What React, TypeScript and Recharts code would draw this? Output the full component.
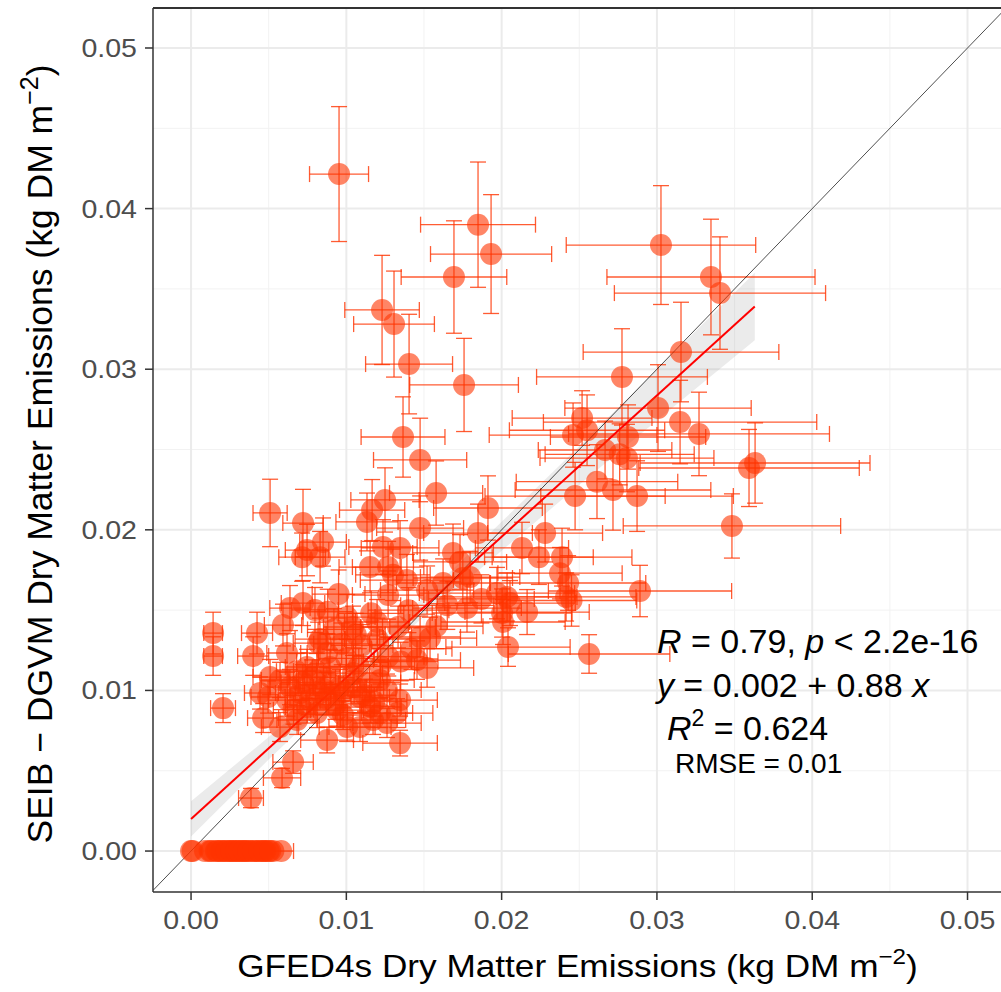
import {
  Area,
  CartesianGrid,
  ComposedChart,
  ErrorBar,
  Line,
  ReferenceDot,
  ReferenceLine,
  Scatter,
  XAxis,
  YAxis,
} from "recharts";

// GFED4s (x) vs SEIB-DGVM (y) dry matter emissions, kg DM m-2, with +/- spread
const gfed = [
  0.0, 0.0001, 0.0009, 0.0012, 0.0016, 0.0019, 0.0022, 0.0025, 0.0027, 0.003, 0.0033, 0.0035, 0.0038, 0.0041, 0.0043,
  0.0046, 0.0048, 0.005, 0.0053, 0.0058,
  0.00953, 0.01848, 0.01932, 0.01693, 0.0123, 0.01307, 0.01404, 0.01758, 0.01365, 0.03026, 0.03348, 0.03406, 0.03155,
  0.02775, 0.03007, 0.03149, 0.03271, 0.03593, 0.03632, 0.02518, 0.0246, 0.0255, 0.02814, 0.02666, 0.02807, 0.0276,
  0.02614, 0.02717, 0.02473, 0.02872, 0.03483, 0.02891, 0.02563,
  0.01475, 0.01578, 0.01912, 0.01475, 0.01848, 0.0228, 0.02131, 0.0224, 0.02389, 0.02376, 0.02428, 0.02415, 0.0245,
  0.01687, 0.01732, 0.01797, 0.01623, 0.0197, 0.02035, 0.02054, 0.02164, 0.02003, 0.02009, 0.02041, 0.01777, 0.01539,
  0.01455, 0.0152, 0.0139, 0.0152,
  0.00509, 0.00721, 0.0085, 0.00747, 0.00715, 0.00831, 0.01133, 0.01166, 0.01249, 0.01236, 0.01346, 0.01153, 0.01269,
  0.01269, 0.00721, 0.00798, 0.00637, 0.00592, 0.00142, 0.00142, 0.00206, 0.00425, 0.004, 0.00509, 0.00496, 0.00464,
  0.00618, 0.01005, 0.01043, 0.01198, 0.00818, 0.00876, 0.01475, 0.01333, 0.01217, 0.01346, 0.01346, 0.00876, 0.00657,
  0.00586, 0.00979, 0.01088, 0.01172, 0.01262, 0.00444, 0.00573, 0.00637, 0.00702, 0.00747, 0.00683, 0.00573, 0.00811,
  0.0094, 0.00831, 0.00959, 0.01088, 0.01043, 0.00895, 0.00747, 0.01153, 0.01217, 0.01327, 0.01005, 0.01262, 0.00386,
  0.0092, 0.011, 0.01, 0.012, 0.014, 0.013, 0.0095, 0.0078, 0.0068, 0.0062, 0.009, 0.0115, 0.0135, 0.0158, 0.0165,
  0.0187, 0.0175,
  0.0013, 0.0017, 0.002, 0.0023, 0.0026, 0.0029, 0.0031, 0.0034, 0.0037, 0.004, 0.0044, 0.0047, 0.0051,
  0.0072, 0.0081, 0.0087, 0.0098, 0.0105, 0.0112, 0.0118, 0.0093, 0.0085, 0.0076, 0.0066, 0.0108, 0.0122, 0.0097,
  0.0083, 0.0127, 0.0142, 0.0106, 0.0116, 0.0088,
];

const seib = [
  0, 0, 0, 0, 0, 0, 0, 0, 0, 0, 0, 0, 0, 0, 0, 0, 0, 0, 0, 0,
  0.04215, 0.039, 0.03717, 0.03574, 0.03369, 0.03281, 0.03032, 0.02902, 0.02578, 0.03773, 0.03574, 0.03474, 0.03107,
  0.02952, 0.02758, 0.02671, 0.02597, 0.02385, 0.02416, 0.02696, 0.0259, 0.0262, 0.02578, 0.02497, 0.02447, 0.0247,
  0.023, 0.02248, 0.0221, 0.0221, 0.02024, 0.01619, 0.01227,
  0.02435, 0.02229, 0.02136, 0.02011, 0.0198, 0.0198, 0.01887, 0.0183, 0.0183, 0.0173, 0.01669, 0.01582, 0.0156,
  0.01856, 0.018, 0.01706, 0.01669, 0.01606, 0.01582, 0.01544, 0.01488, 0.01482, 0.01426, 0.0127, 0.01513, 0.01326,
  0.01189, 0.0114, 0.01687, 0.01625,
  0.02105, 0.02042, 0.01924, 0.01874, 0.0183, 0.0183, 0.02049, 0.02123, 0.02186, 0.01893, 0.01887, 0.01768, 0.01768,
  0.01594, 0.01544, 0.01501, 0.01513, 0.01407, 0.01357, 0.01214, 0.0089, 0.01357, 0.01214, 0.01083, 0.00959, 0.00828,
  0.01233, 0.01457, 0.01395, 0.01426, 0.01295, 0.01233, 0.01333, 0.01395, 0.01065, 0.0094, 0.00672, 0.00691, 0.00554,
  0.00455, 0.00847, 0.00772, 0.00816, 0.00797, 0.00984, 0.01065, 0.01021, 0.00984, 0.00897, 0.00816, 0.00772, 0.00859,
  0.00878, 0.00984, 0.01021, 0.00959, 0.01108, 0.01146, 0.01146, 0.00897, 0.00859, 0.00859, 0.00772, 0.01002, 0.0033,
  0.0138, 0.0128, 0.012, 0.0132, 0.015, 0.0172, 0.016, 0.0108, 0.0112, 0.0094, 0.0104, 0.0105, 0.0118, 0.014, 0.0153,
  0.0157, 0.017,
  0, 0, 0, 0, 0, 0, 0, 0, 0, 0, 0, 0, 0,
  0.0105, 0.0112, 0.0095, 0.0099, 0.0102, 0.0097, 0.0093, 0.0091, 0.0101, 0.0094, 0.0088, 0.0115, 0.0115, 0.0129,
  0.0132, 0.0121, 0.0126, 0.0135, 0.0148, 0.0149,
];

const gfedSpread = [
  0, 0, 0, 0, 0, 0, 0, 0, 0, 0, 0, 0, 0, 0, 0, 0, 0, 0, 0, 0.0008,
  0.0019, 0.0037, 0.0039, 0.0034, 0.0024, 0.0026, 0.0028, 0.0035, 0.0027, 0.0061, 0.0067, 0.0068, 0.0063,
  0.0055, 0.006, 0.0088, 0.0084, 0.0071, 0.0074, 0.0045, 0.0054, 0.005, 0.005, 0.0043, 0.0056, 0.0048,
  0.0052, 0.0063, 0.0058, 0.0062, 0.007, 0.0059, 0.0052,
  0.003, 0.003, 0.0035, 0.0028, 0.0035, 0.0037, 0.003, 0.0035, 0.0045, 0.004, 0.005, 0.0045, 0.0042,
  0.0026, 0.003, 0.0032, 0.003, 0.005, 0.0045, 0.0042, 0.004, 0.0045, 0.004, 0.004, 0.0035, 0.003,
  0.0028, 0.003, 0.003, 0.003,
  0.0011, 0.0013, 0.0015, 0.0014, 0.0015, 0.0016, 0.002, 0.0021, 0.0022, 0.0022, 0.0025, 0.002, 0.0023,
  0.0023, 0.0014, 0.0015, 0.0013, 0.0012, 0.0006, 0.0006, 0.0008, 0.001, 0.001, 0.0011, 0.0011, 0.001,
  0.0013, 0.0018, 0.0019, 0.0021, 0.0016, 0.0017, 0.0026, 0.0024, 0.0022, 0.0024, 0.0024, 0.0017, 0.0013,
  0.0012, 0.0018, 0.002, 0.0021, 0.0022, 0.001, 0.0012, 0.0013, 0.0014, 0.0014, 0.0013, 0.0012, 0.0015,
  0.0017, 0.0016, 0.0017, 0.0019, 0.0019, 0.0016, 0.0014, 0.002, 0.0021, 0.0023, 0.0018, 0.0022, 0.0008,
  0.0017, 0.002, 0.0018, 0.0021, 0.0026, 0.0024, 0.0017, 0.0015, 0.0013, 0.0012, 0.0017, 0.002, 0.0024, 0.003, 0.003,
  0.0034, 0.0032,
  0, 0, 0, 0, 0, 0, 0, 0, 0, 0, 0, 0, 0,
  0.0014, 0.0015, 0.0016, 0.0018, 0.0019, 0.002, 0.0021, 0.0017, 0.0016, 0.0014, 0.0013, 0.0019, 0.0022, 0.0018,
  0.0016, 0.0023, 0.0026, 0.0019, 0.0021, 0.0016,
];

const seibSpread = [
  0, 0, 0, 0, 0, 0, 0, 0, 0, 0, 0, 0, 0, 0, 0, 0, 0, 0, 0, 0,
  0.0042, 0.0039, 0.0037, 0.0035, 0.0034, 0.0033, 0.0031, 0.0029, 0.0025, 0.0037, 0.0036, 0.0035, 0.0031,
  0.003, 0.0027, 0.0026, 0.0026, 0.0024, 0.0025, 0.0017, 0.002, 0.0022, 0.002, 0.0018, 0.0021, 0.0019,
  0.0023, 0.0025, 0.0021, 0.0022, 0.002, 0.0016, 0.0012,
  0.0026, 0.002, 0.002, 0.002, 0.0018, 0.0018, 0.0016, 0.0017, 0.0018, 0.0016, 0.0017, 0.0015, 0.0016,
  0.0018, 0.0017, 0.0016, 0.0015, 0.0016, 0.0015, 0.0014, 0.0014, 0.0015, 0.0014, 0.0012, 0.0015, 0.0013,
  0.0012, 0.0012, 0.0016, 0.0015,
  0.0021, 0.0021, 0.0015, 0.0016, 0.0015, 0.0016, 0.0018, 0.0019, 0.002, 0.0017, 0.0017, 0.0016, 0.0016,
  0.0015, 0.0014, 0.0014, 0.0014, 0.0013, 0.0013, 0.0012, 0.0009, 0.0013, 0.0012, 0.0011, 0.001, 0.0009,
  0.0012, 0.0014, 0.0013, 0.0014, 0.0013, 0.0012, 0.0013, 0.0013, 0.0011, 0.001, 0.0008, 0.0008, 0.0007,
  0.0006, 0.0009, 0.0009, 0.0009, 0.0009, 0.001, 0.0011, 0.0011, 0.001, 0.001, 0.0009, 0.0009, 0.0009,
  0.001, 0.001, 0.0011, 0.001, 0.0011, 0.0011, 0.0011, 0.001, 0.0009, 0.0009, 0.0009, 0.001, 0.0006,
  0.0013, 0.0013, 0.0012, 0.0013, 0.0014, 0.0016, 0.0015, 0.0011, 0.0011, 0.001, 0.001, 0.0011, 0.0012, 0.0014, 0.0015,
  0.0015, 0.0016,
  0, 0, 0, 0, 0, 0, 0, 0, 0, 0, 0, 0, 0,
  0.0011, 0.0011, 0.001, 0.001, 0.001, 0.001, 0.0009, 0.0009, 0.001, 0.0009, 0.0009, 0.0011, 0.0011, 0.0013,
  0.0013, 0.0012, 0.0013, 0.0013, 0.0014, 0.0014,
];

// linear fit and its confidence band
const fitX = [0, 0.0363];
const fitY = [0.002, 0.0339];
const bandX = [0, 0.005, 0.01, 0.015, 0.02, 0.025, 0.03, 0.0363];
const bandLo = [0.0009, 0.0057, 0.0103, 0.0146, 0.0187, 0.0228, 0.0268, 0.0318];
const bandHi = [0.0031, 0.0071, 0.0113, 0.0158, 0.0205, 0.0252, 0.03, 0.036];

const majorTicks = [0, 0.01, 0.02, 0.03, 0.04, 0.05];
const minorTicks = [0.005, 0.015, 0.025, 0.035, 0.045];

const xDomain: [number, number] = [-0.00245, 0.05222];
const yDomain: [number, number] = [-0.00255, 0.05249];

const points = gfed.map((x, i) => ({ x, y: seib[i], xe: gfedSpread[i], ye: seibSpread[i] }));
const fitLine = fitX.map((x, i) => ({ x, y: fitY[i] }));
const band = bandX.map((x, i) => ({ x, range: [bandLo[i], bandHi[i]] }));
const oneToOne = [
  { x: xDomain[0], y: xDomain[0] },
  { x: xDomain[1], y: xDomain[1] },
];

const FONT = "'Liberation Sans', Arial, sans-serif";
const ORANGE = "#FF3300";

const XTick = (props: any) => {
  const { x, y, payload } = props;
  return (
    <text
      transform={`translate(${x},${y + 27}) scale(1.12,1)`}
      textAnchor="middle"
      fontFamily={FONT}
      fontSize={25.5}
      fill="#4D4D4D"
    >
      {Number(payload.value).toFixed(2)}
    </text>
  );
};

const YTick = (props: any) => {
  const { x, y, payload } = props;
  return (
    <text
      transform={`translate(${x - 6},${y + 9}) scale(1.12,1)`}
      textAnchor="end"
      fontFamily={FONT}
      fontSize={25.5}
      fill="#4D4D4D"
    >
      {Number(payload.value).toFixed(2)}
    </text>
  );
};

const XTitle = (props: any) => {
  const vb = props.viewBox;
  return (
    <text
      transform={`translate(${vb.x + vb.width / 2},${vb.y + 85}) scale(1.1,1)`}
      textAnchor="middle"
      fontFamily={FONT}
      fontSize={32}
      fill="#000"
    >
      GFED4s Dry Matter Emissions (kg DM m
      <tspan dy={-13} fontSize={22}>
        −2
      </tspan>
      <tspan dy={13}>)</tspan>
    </text>
  );
};

const YTitle = (props: any) => {
  const vb = props.viewBox;
  const cx = 52;
  const cy = vb.y + vb.height / 2 + 4;
  return (
    <text
      transform={`translate(${cx},${cy}) rotate(-90)`}
      textAnchor="middle"
      fontFamily={FONT}
      fontSize={35.5}
      fill="#000"
    >
      SEIB − DGVM Dry Matter Emissions (kg DM m
      <tspan dy={-14} fontSize={25}>
        −2
      </tspan>
      <tspan dy={14}>)</tspan>
    </text>
  );
};

const Dot = (props: any) => <circle cx={props.cx} cy={props.cy} r={11} fill={ORANGE} fillOpacity={0.6} />;

const StatsLabel = (props: any) => {
  const { cx, cy } = props;
  return (
    <g fontFamily={FONT} fill="#000">
      <text x={cx} y={cy} fontSize={34}>
        <tspan fontStyle="italic">R</tspan> = 0.79, <tspan fontStyle="italic">p</tspan> &lt; 2.2e-16
      </text>
      <text x={cx} y={cy + 44} fontSize={34}>
        <tspan fontStyle="italic">y</tspan> = 0.002 + 0.88 <tspan fontStyle="italic">x</tspan>
      </text>
      <text x={cx + 10} y={cy + 87} fontSize={34}>
        <tspan fontStyle="italic">R</tspan>
        <tspan dy={-14} fontSize={23}>
          2
        </tspan>
        <tspan dy={14}> = 0.624</tspan>
      </text>
      <text x={cx + 18} y={cy + 120} fontSize={28}>
        RMSE = 0.01
      </text>
    </g>
  );
};

export default function App() {
  return (
    <div style={{ position: "fixed", left: 0, top: 0, width: 1001, height: 992, overflow: "hidden", background: "#fff" }}>
      <ComposedChart width={1010} height={992} margin={{ top: 8, right: 8, bottom: 0, left: 0 }}>
        <CartesianGrid
          horizontalValues={minorTicks}
          verticalValues={minorTicks}
          stroke="#F2F2F2"
          strokeWidth={1}
        />
        <CartesianGrid
          horizontalValues={majorTicks}
          verticalValues={majorTicks}
          stroke="#EBEBEB"
          strokeWidth={2}
        />
        <XAxis
          type="number"
          dataKey="x"
          domain={xDomain}
          allowDataOverflow
          ticks={majorTicks}
          tick={<XTick />}
          tickSize={8}
          tickLine={{ stroke: "#333333", strokeWidth: 1.5 }}
          axisLine={{ stroke: "#333333", strokeWidth: 1.5 }}
          height={100}
          label={{ content: (p: any) => <XTitle {...p} /> }}
        />
        <YAxis
          type="number"
          dataKey="y"
          domain={yDomain}
          allowDataOverflow
          ticks={majorTicks}
          tick={<YTick />}
          tickSize={8}
          tickLine={{ stroke: "#333333", strokeWidth: 1.5 }}
          axisLine={{ stroke: "#333333", strokeWidth: 1.5 }}
          width={153}
          label={{ content: (p: any) => <YTitle {...p} /> }}
        />
        <Scatter data={points} shape={<Dot />} isAnimationActive={false}>
          <ErrorBar dataKey="xe" direction="x" width={8} stroke={ORANGE} strokeOpacity={0.8} strokeWidth={1.3} />
          <ErrorBar dataKey="ye" direction="y" width={8} stroke={ORANGE} strokeOpacity={0.8} strokeWidth={1.3} />
        </Scatter>
        <Area
          data={band}
          dataKey="range"
          type="linear"
          stroke="none"
          fill="#999999"
          fillOpacity={0.2}
          isAnimationActive={false}
        />
        <Line data={fitLine} dataKey="y" type="linear" stroke="#FF0000" strokeWidth={2} dot={false} isAnimationActive={false} />
        <Line data={oneToOne} dataKey="y" type="linear" stroke="#000000" strokeWidth={0.7} dot={false} isAnimationActive={false} />
        <ReferenceLine y={yDomain[1]} stroke="#333333" strokeWidth={2} />
        <ReferenceDot x={0.03} y={0.01233} r={0} shape={(p: any) => <StatsLabel {...p} />} />
      </ComposedChart>
    </div>
  );
}
